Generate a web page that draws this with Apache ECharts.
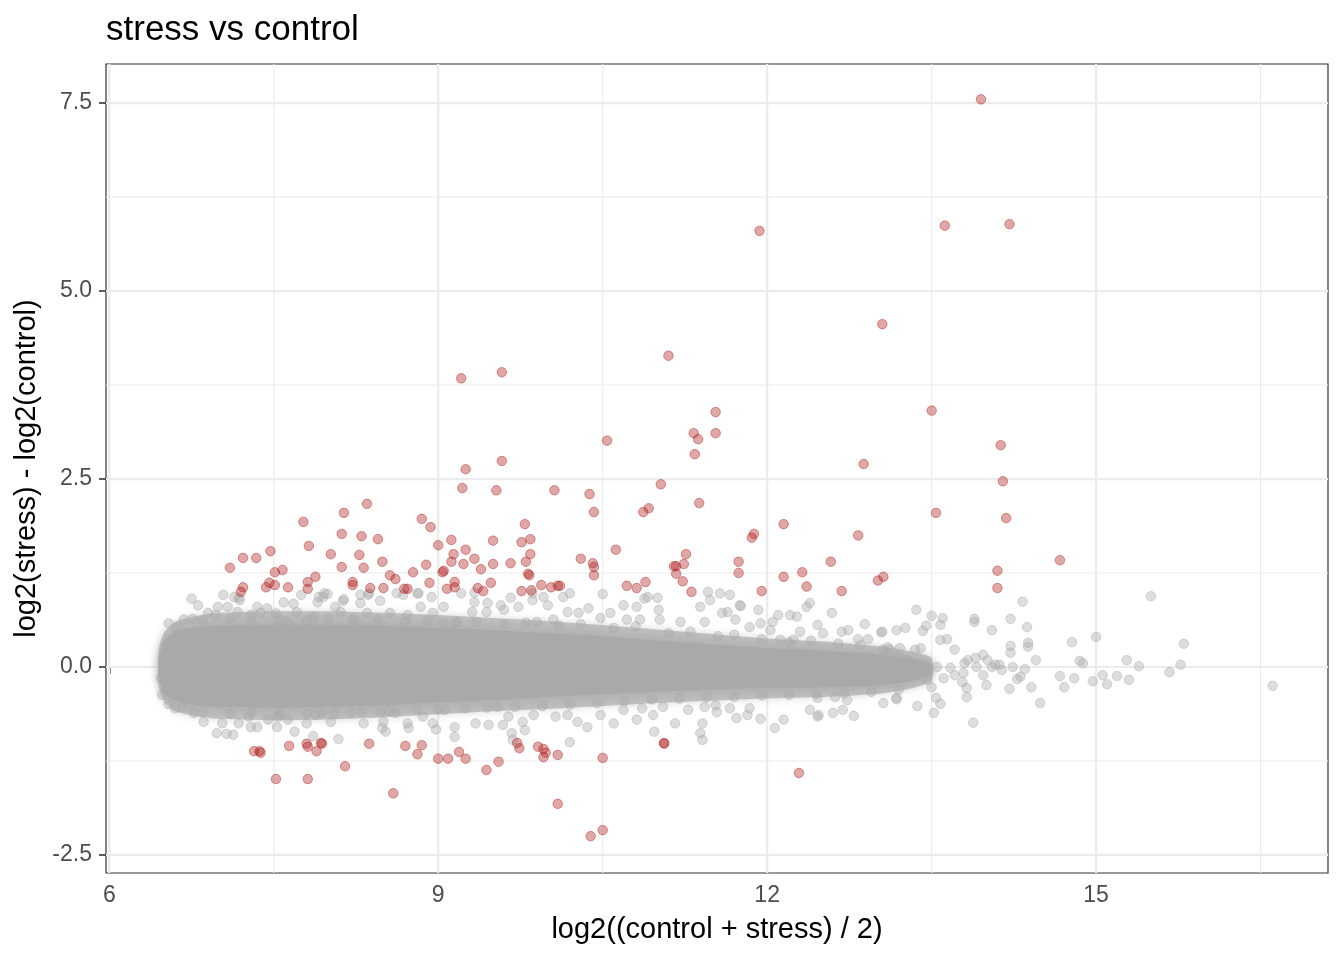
<!DOCTYPE html>
<html><head><meta charset="utf-8">
<script src="https://cdn.jsdelivr.net/npm/echarts@6.0.0/dist/echarts.min.js"></script>
<style>html,body{margin:0;padding:0;background:#fff}#c{width:1344px;height:960px}</style>
</head><body><div id="c"></div><script>
// ---- data ----
const xTicks = [6, 9, 12, 15];
const xMinor = [7.5, 10.5, 13.5, 16.5];
const yTicks = [-2.5, 0, 2.5, 5, 7.5];
const yMinor = [-1.25, 1.25, 3.75, 6.25];

// dense core of the non-significant genes (envelope)
const bandX     = [6.45, 6.5, 6.6, 6.8, 7.0, 7.5, 8.0, 8.5, 9.0, 9.5, 10.0, 10.5, 11.0, 11.5, 12.0, 12.5, 13.0, 13.3, 13.5];
const bandUpper = [0.10, 0.35, 0.47, 0.53, 0.55, 0.56, 0.56, 0.55, 0.52, 0.49, 0.45, 0.41, 0.35, 0.30, 0.25, 0.22, 0.17, 0.11, 0.04];
const bandLower = [-0.12, -0.35, -0.45, -0.51, -0.53, -0.54, -0.53, -0.51, -0.47, -0.44, -0.40, -0.36, -0.33, -0.30, -0.28, -0.27, -0.25, -0.19, -0.10];
// looser halo around the core
const haloUpper = [0.22, 0.46, 0.60, 0.68, 0.72, 0.74, 0.74, 0.72, 0.69, 0.65, 0.61, 0.56, 0.50, 0.44, 0.38, 0.34, 0.28, 0.21, 0.12];
const haloLower = [-0.25, -0.46, -0.59, -0.66, -0.69, -0.71, -0.70, -0.67, -0.63, -0.59, -0.56, -0.52, -0.48, -0.45, -0.42, -0.40, -0.36, -0.29, -0.18];

// significant genes (red)
const sigPoints = [
[13.95,7.55],[13.62,5.87],[14.21,5.89],[11.93,5.80],[13.05,4.56],[11.10,4.14],[9.21,3.84],[9.58,3.92],[13.50,3.41],[11.53,3.39],
[11.33,3.11],[11.37,3.03],[11.53,3.11],[11.34,2.83],[10.54,3.01],[14.13,2.95],[9.25,2.63],[9.58,2.74],[12.88,2.70],[14.15,2.47],
[11.03,2.43],[9.22,2.38],[9.53,2.35],[10.06,2.35],[10.38,2.30],[11.38,2.18],[8.35,2.17],[10.92,2.11],[10.87,2.06],[13.54,2.05],
[10.42,2.06],[8.14,2.05],[14.18,1.98],[8.85,1.97],[8.93,1.86],[7.77,1.93],[9.79,1.90],[12.15,1.90],[11.88,1.77],[11.86,1.72],
[12.83,1.75],[8.12,1.77],[8.30,1.74],[8.45,1.70],[9.12,1.69],[9.00,1.62],[9.25,1.56],[9.50,1.68],[9.76,1.66],[9.84,1.70],
[7.82,1.61],[7.47,1.54],[10.62,1.56],[9.84,1.50],[11.26,1.50],[8.02,1.50],[8.28,1.49],[7.22,1.45],[7.34,1.45],[9.14,1.50],
[9.33,1.44],[9.12,1.40],[9.23,1.37],[9.39,1.30],[9.50,1.37],[9.66,1.38],[9.80,1.40],[9.82,1.24],[9.83,1.22],[10.30,1.44],
[10.41,1.38],[10.42,1.33],[10.42,1.22],[11.15,1.34],[11.17,1.34],[11.24,1.37],[11.17,1.24],[11.23,1.14],[11.31,1.00],[11.74,1.40],
[11.74,1.25],[11.95,1.01],[12.15,1.20],[12.32,1.26],[12.36,1.07],[12.58,1.40],[12.68,1.01],[13.01,1.15],[13.06,1.20],[14.10,1.28],
[14.10,1.05],[14.67,1.42],[8.49,1.40],[8.12,1.33],[8.32,1.32],[8.77,1.26],[8.89,1.36],[9.04,1.26],[7.88,1.20],[7.51,1.26],
[7.58,1.29],[7.81,1.13],[7.81,1.04],[7.63,1.06],[7.46,1.12],[7.43,1.06],[7.51,1.09],[7.22,1.06],[7.20,1.00],[7.10,1.32],
[8.22,1.13],[8.22,1.09],[8.38,1.05],[8.50,1.05],[8.56,1.22],[8.61,1.17],[8.69,1.04],[8.72,1.04],[8.92,1.12],[9.08,1.04],
[9.15,1.06],[9.15,1.13],[9.36,1.05],[9.41,1.01],[9.48,1.12],[9.76,1.01],[9.85,1.02],[9.94,1.09],[10.03,1.06],[10.09,1.08],
[10.11,1.08],[10.72,1.08],[10.81,1.05],[10.89,1.13],[9.05,1.28],
[7.32,-1.12],[7.37,-1.12],[7.38,-1.14],[7.64,-1.05],[7.80,-1.02],[7.81,-1.06],[7.89,-1.12],[7.93,-1.01],[7.94,-1.02],[8.15,-1.32],
[8.37,-1.02],[7.52,-1.49],[7.81,-1.49],[8.59,-1.68],[8.70,-1.05],[8.85,-1.04],[8.81,-1.16],[9.00,-1.22],[9.09,-1.22],[9.19,-1.13],
[9.25,-1.22],[9.44,-1.37],[9.55,-1.26],[9.72,-1.01],[9.74,-1.08],[9.91,-1.06],[9.96,-1.09],[9.98,-1.14],[9.96,-1.20],[10.09,-1.17],
[10.50,-1.21],[10.09,-1.82],[10.39,-2.25],[10.50,-2.17],[11.06,-1.01],[11.06,-1.02],[12.29,-1.41]
];

// non-significant genes outside the dense core (grey)
const nsPoints = [
[6.75,0.91],[7.04,0.96],[6.81,0.82],[6.99,0.80],[7.08,0.80],[7.18,0.92],[7.19,0.89],[6.54,0.58],[6.62,0.53],[6.68,0.63],
[6.76,0.64],[6.90,0.72],[6.97,0.69],[7.29,0.69],[7.35,0.80],[7.44,0.78],[7.52,0.71],[7.59,0.86],[7.68,0.84],[7.71,0.73],
[7.90,0.86],[7.95,0.93],[7.99,0.97],[8.06,0.80],[8.13,0.88],[8.11,0.73],[7.86,0.67],[8.29,0.96],[8.36,0.96],[8.29,0.85],
[8.47,0.88],[8.35,0.72],[8.56,0.72],[8.62,0.98],[8.22,0.63],[7.62,0.60],[7.17,0.73],[7.38,0.72],
[7.14,0.93],[7.75,0.96],[7.91,0.93],[7.96,0.98],[8.14,0.90],[8.37,0.98],[8.68,0.96],[8.82,0.98],[8.94,0.93],[9.05,0.80],
[9.21,0.98],[9.33,0.86],[9.57,0.82],[9.44,0.73],
[6.47,-0.15],[6.48,-0.37],[6.54,-0.49],[6.67,-0.53],[6.77,-0.61],[6.86,-0.73],[6.98,-0.88],[7.07,-0.89],[7.13,-0.90],[7.03,-0.75],
[7.18,-0.75],[7.27,-0.66],[7.29,-0.80],[7.35,-0.80],[7.53,-0.80],[7.54,-0.66],[7.45,-0.70],[7.63,-0.70],[7.69,-0.86],[7.80,-0.75],
[7.86,-0.92],[7.88,-0.64],[7.94,-0.61],[8.09,-0.96],[8.02,-0.73],[8.20,-0.61],[8.32,-0.75],[8.50,-0.73],[8.52,-0.86],[8.47,-0.60],
[8.61,-0.61],[8.49,-0.81],[8.73,-0.81],[8.98,-0.83],[9.15,-0.93],[9.34,-0.75],[9.46,-0.77],[9.59,-0.77],
[8.81,0.98],[9.33,0.99],[9.45,0.85],[9.60,0.76],[9.66,0.92],[9.73,0.80],[9.86,0.98],[9.86,0.89],[9.96,0.93],[10.00,0.82],
[10.14,0.93],[10.20,0.98],[10.18,0.73],[10.28,0.72],[10.37,0.78],[10.50,0.97],[10.57,0.72],[10.69,0.82],[10.81,0.80],[10.91,0.93],
[9.31,0.73],[9.17,0.60],[8.95,0.72],[8.84,0.80],[8.72,0.69],[9.05,0.58],[9.90,0.60],[10.05,0.63],[10.48,0.65],[10.72,0.63],[10.84,0.63],
[8.72,-0.75],[8.86,-0.66],[8.95,-0.75],[9.15,-0.80],[9.54,-0.53],[9.64,-0.66],[9.67,-0.88],[9.68,-0.97],[9.77,-0.73],[9.87,-0.64],
[9.79,-0.84],[10.07,-0.66],[10.18,-0.64],[10.20,-1.00],[10.27,-0.73],[10.36,-0.80],[10.48,-0.64],[10.60,-0.75],[10.69,-0.57],[10.81,-0.70],
[10.86,-0.55],[9.06,-0.57],
[11.00,0.92],[11.01,0.76],[11.46,1.00],[11.57,0.98],[11.66,0.96],[11.48,0.89],[11.39,0.80],[11.59,0.72],[11.64,0.73],[11.75,0.82],
[11.92,0.76],[11.71,0.63],[11.84,0.53],[11.94,0.58],[11.43,0.60],[11.21,0.60],[11.02,0.63],[12.10,0.69],[12.21,0.69],[12.27,0.67],
[12.36,0.80],[12.39,0.85],[12.59,0.72],[12.05,0.60],[12.46,0.56],[12.89,0.57],[12.74,0.49],[12.30,0.47],[12.51,0.45],[13.05,0.47],
[13.18,0.49],[12.03,0.49],[12.24,0.36],[12.12,0.36],[12.83,0.37],[12.92,0.37],[12.68,0.47],[13.06,0.23],[13.12,0.23],[10.88,0.91],[11.76,0.81],
[10.96,-0.64],[11.16,-0.75],[11.39,-0.88],[11.41,-0.97],[11.41,-0.75],[11.43,-0.53],[11.53,-0.51],[11.54,-0.60],[11.66,-0.55],[11.72,-0.68],
[11.82,-0.64],[11.84,-0.55],[11.94,-0.69],[12.07,-0.81],[12.15,-0.70],[12.39,-0.57],[12.46,-0.66],[12.47,-0.64],[12.60,-0.61],[12.69,-0.57],
[12.79,-0.65],[12.46,-0.41],[12.62,-0.40],[12.73,-0.44],[13.06,-0.48],[13.18,-0.41],[10.97,-0.86],[11.05,-0.53],[11.28,-0.57],
[15.50,0.94],[16.61,-0.25],[15.80,0.31],[15.77,0.03],[15.67,-0.07],[15.39,0.01],[15.30,-0.17],[15.28,0.09],[15.19,-0.12],[15.10,-0.23],
[15.06,-0.11],[14.97,-0.19],[15.00,0.40],[14.88,0.05],[14.85,0.08],[14.78,0.33],[14.80,-0.15],[14.71,-0.27],[14.67,-0.12],[14.49,-0.48],
[14.45,0.09],[14.41,-0.27],[14.33,0.87],[14.37,0.53],[14.38,0.32],[14.38,0.27],[14.35,-0.03],[14.31,-0.13],[14.28,-0.16],[14.24,0.00],
[14.22,0.64],[14.22,0.28],[14.22,0.19],[14.21,-0.29],[14.05,0.49],[13.89,0.64],[13.89,0.60],[13.88,-0.74],[13.82,-0.40],[13.58,-0.49],
[13.54,-0.41],[13.52,-0.61],[13.50,0.68],[13.60,0.65],[13.58,0.56],[13.37,-0.52],[13.36,0.76],[13.18,-0.43],[13.04,0.46],[13.26,0.52],
[13.45,0.55],[13.42,0.48],
[13.58,0.36],[13.64,0.37],[13.71,0.23],[13.80,0.05],[13.83,0.09],[13.90,0.12],[13.91,0.00],[13.97,0.16],[13.97,-0.11],[14.00,-0.24],
[14.05,0.00],[14.08,0.03],[14.12,0.03],[14.14,-0.04],[14.01,0.09],[13.79,-0.08],[13.78,-0.20],[13.82,-0.28],[13.71,-0.11],[13.67,-0.01],
[13.55,0.00],[13.61,-0.15],[13.50,-0.27],[13.46,-0.17],[13.40,0.25],[13.35,0.23],[13.28,0.09],[13.21,0.25],[13.20,0.13],
[6.85,0.62],[7.10,0.64],[7.30,0.61],[7.55,0.63],[7.80,0.62],[8.00,0.64],[8.25,0.61],[8.45,0.63],[8.70,0.60],[8.90,0.62],
[9.15,0.58],[9.35,0.60],[9.60,0.57],[9.80,0.59],[10.10,0.55],[10.30,0.57],[10.60,0.52],[10.80,0.54],[11.10,0.45],[11.30,0.47],
[11.55,0.41],[11.70,0.43],[11.95,0.37],[12.20,0.33],[12.40,0.35],[12.65,0.31],[12.85,0.29],[13.10,0.26],
[6.60,-0.55],[6.85,-0.60],[7.10,-0.62],[7.30,-0.60],[7.55,-0.63],[7.80,-0.62],[8.05,-0.62],[8.30,-0.60],[8.55,-0.59],[8.80,-0.57],
[9.00,-0.56],[9.25,-0.55],[9.45,-0.54],[9.70,-0.53],[9.95,-0.52],[10.20,-0.50],[10.45,-0.48],[10.70,-0.45],[10.95,-0.43],[11.20,-0.42],
[11.45,-0.40],[11.70,-0.40],[11.95,-0.38],[12.20,-0.37],[12.45,-0.36],[12.70,-0.35],[12.95,-0.33],[13.20,-0.30]
];

// ---- chart ----
const FONT = '"Liberation Sans", Arial, Helvetica, sans-serif';
const chart = echarts.init(document.getElementById('c'), null, {renderer: 'canvas'});

function vLine(width) {
  return function (params, api) {
    const p = api.coord([api.value(0), 0]);
    const cs = params.coordSys;
    return {type: 'line', shape: {x1: p[0], y1: cs.y, x2: p[0], y2: cs.y + cs.height},
            style: {stroke: '#ebebeb', lineWidth: width}};
  };
}
function hLine(width) {
  return function (params, api) {
    const p = api.coord([10, api.value(1)]);
    const cs = params.coordSys;
    return {type: 'line', shape: {x1: cs.x, y1: p[1], x2: cs.x + cs.width, y2: p[1]},
            style: {stroke: '#ebebeb', lineWidth: width}};
  };
}
function bandShape(upper, lower, style) {
  return function (params, api) {
    const pts = [];
    for (let i = 0; i < bandX.length; i++) pts.push(api.coord([bandX[i], upper[i]]));
    for (let i = bandX.length - 1; i >= 0; i--) pts.push(api.coord([bandX[i], lower[i]]));
    return {type: 'polygon', shape: {points: pts, smooth: 0.2}, style: style};
  };
}

chart.setOption({
  animation: false,
  backgroundColor: '#ffffff',
  title: {
    text: 'stress vs control', left: 106, top: 13, padding: 0,
    textStyle: {fontFamily: FONT, fontSize: 35, fontWeight: 'normal', color: '#000'}
  },
  grid: {left: 106, right: 16, top: 64, bottom: 87, show: true, borderColor: '#333333', borderWidth: 1.2, backgroundColor: 'transparent'},
  xAxis: {
    type: 'value', min: 5.97, max: 17.115,
    name: 'log2((control + stress) / 2)', nameLocation: 'middle', nameGap: 42,
    nameTextStyle: {fontFamily: FONT, fontSize: 29, color: '#000'},
    axisLine: {show: false},
    splitLine: {show: false},
    axisTick: {show: true, length: 7, customValues: xTicks, lineStyle: {color: '#333333', width: 1.6}},
    axisLabel: {customValues: xTicks, fontFamily: FONT, fontSize: 23, color: '#4d4d4d', margin: 11}
  },
  yAxis: {
    type: 'value', min: -2.74, max: 8.02,
    name: 'log2(stress) - log2(control)', nameLocation: 'middle', nameGap: 62,
    nameTextStyle: {fontFamily: FONT, fontSize: 29, color: '#000'},
    axisLine: {show: false},
    splitLine: {show: false},
    axisTick: {show: true, length: 7, customValues: yTicks, lineStyle: {color: '#333333', width: 1.6}},
    axisLabel: {customValues: yTicks, fontFamily: FONT, fontSize: 23, color: '#4d4d4d', margin: 14,
                formatter: v => Number(v).toFixed(1)}
  },
  series: [
    {type: 'custom', silent: true, z: 1, data: xMinor.map(v => [v, 0]), renderItem: vLine(1.1)},
    {type: 'custom', silent: true, z: 1, data: yMinor.map(v => [10, v]), renderItem: hLine(1.1)},
    {type: 'custom', silent: true, z: 1, data: xTicks.map(v => [v, 0]), renderItem: vLine(2.2)},
    {type: 'custom', silent: true, z: 1, data: yTicks.map(v => [10, v]), renderItem: hLine(2.2)},
    {type: 'custom', silent: true, z: 2, data: [[bandX[0], 0]],
     renderItem: bandShape(haloUpper, haloLower, {fill: 'rgba(169,169,169,0.65)', shadowBlur: 9, shadowColor: 'rgba(169,169,169,0.7)'})},
    {type: 'custom', silent: true, z: 2, data: [[bandX[0], 0]],
     renderItem: bandShape(bandUpper, bandLower, {fill: '#a9a9a9', shadowBlur: 8, shadowColor: 'rgba(169,169,169,0.9)'})},
    {
      type: 'scatter', z: 3, silent: true, data: nsPoints, symbol: 'circle', symbolSize: 9.5,
      itemStyle: {color: 'rgba(169,169,169,0.4)', borderColor: 'rgba(169,169,169,0.45)', borderWidth: 1, opacity: 1}
    },
    {
      type: 'scatter', z: 4, silent: true, data: sigPoints, symbol: 'circle', symbolSize: 9.5,
      itemStyle: {color: 'rgba(178,34,34,0.4)', borderColor: 'rgba(178,34,34,0.45)', borderWidth: 1, opacity: 1}
    }
  ]
});
</script></body></html>
